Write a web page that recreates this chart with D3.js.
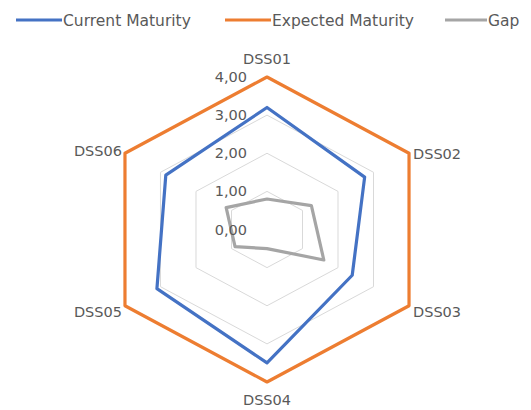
<!DOCTYPE html>
<html><head><meta charset="utf-8">
<script src="https://cdn.jsdelivr.net/npm/d3@7"></script>
<style>body{margin:0;background:#fff;}svg{display:block;}</style>
</head><body>
<svg id="c" width="531" height="410"></svg>
<script>
const categories = ["DSS01","DSS02","DSS03","DSS04","DSS05","DSS06"];
const currentMaturity = [3.2, 2.75, 2.4, 3.5, 3.1, 2.85];
const expectedMaturity = [4, 4, 4, 4, 4, 4];
const gap = [0.8, 1.25, 1.6, 0.5, 0.9, 1.15];
const tickValues = [0, 1, 2, 3, 4];
const tickLabels = ["0,00","1,00","2,00","3,00","4,00"];
const seriesNames = ["Current Maturity","Expected Maturity","Gap"];
const colors = ["#4472C4","#ED7D31","#A5A5A5"];

const svg = d3.select("#c");
const cx = 267, cy = 229.5;
const ry = d3.scaleLinear().domain([0,4]).range([0,152.5]);
const rx = d3.scaleLinear().domain([0,4]).range([0,164]);
const ang = d3.scalePoint().domain(categories).range([0, 2*Math.PI*5/6]);
const pt = (c,v) => [cx + rx(v)*Math.sin(ang(c)), cy - ry(v)*Math.cos(ang(c))];
const font = "DejaVu Sans, Verdana, sans-serif";
const line = d3.line().curve(d3.curveLinearClosed);

// grid
const g = svg.append("g");
tickValues.filter(t=>t>0 && t<4).forEach(t=>{
  g.append("path").attr("d", line(categories.map(c=>pt(c,t))))
   .attr("fill","none").attr("stroke","#D9D9D9").attr("stroke-width",1);
});

// series
const series = [currentMaturity, expectedMaturity, gap];
[1,0,2].forEach(i=>{
  svg.append("path").attr("d", line(categories.map((c,j)=>pt(c, series[i][j]))))
    .attr("fill","none").attr("stroke",colors[i]).attr("stroke-width",3.2)
    .attr("stroke-linejoin","round");
});

// tick labels
tickValues.forEach((t,i)=>{
  svg.append("text").attr("x", cx-20).attr("y", cy - ry(t) + 5)
    .attr("text-anchor","end").attr("font-family",font).attr("font-size",14.5)
    .attr("fill","#595959").text(tickLabels[i]);
});

// category labels
const labPos = {
  "DSS01": {dx:0, dy:-13.5, anchor:"middle"},
  "DSS02": {dx:4, dy:5.5, anchor:"start"},
  "DSS03": {dx:4, dy:11, anchor:"start"},
  "DSS04": {dx:0, dy:23, anchor:"middle"},
  "DSS05": {dx:-3, dy:11, anchor:"end"},
  "DSS06": {dx:-3, dy:2.5, anchor:"end"}
};
categories.forEach(c=>{
  const p = pt(c,4), o = labPos[c];
  svg.append("text").attr("x", p[0]+o.dx).attr("y", p[1]+o.dy)
    .attr("text-anchor", o.anchor).attr("font-family",font).attr("font-size",14.5)
    .attr("fill","#595959").text(c);
});

// legend
const legX = [16, 225, 445];
const legW = [46, 46, 42];
seriesNames.forEach((s,i)=>{
  svg.append("line").attr("x1",legX[i]).attr("x2",legX[i]+legW[i]).attr("y1",20).attr("y2",20)
    .attr("stroke",colors[i]).attr("stroke-width",3.2);
  svg.append("text").attr("x",legX[i]+legW[i]+1).attr("y",26).attr("font-family",font)
    .attr("font-size",15.5).attr("fill","#595959").text(s);
});
</script>
</body></html>
